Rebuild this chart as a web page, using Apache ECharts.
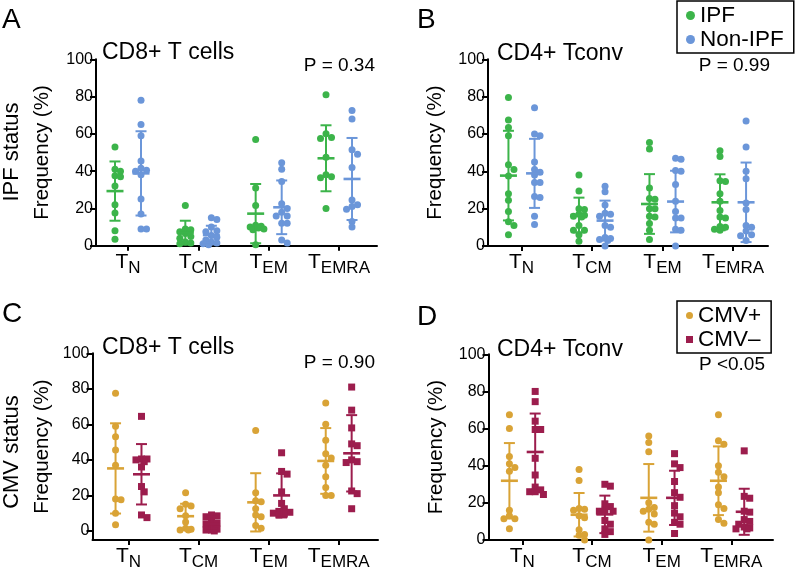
<!DOCTYPE html>
<html><head><meta charset="utf-8">
<script src="https://cdn.jsdelivr.net/npm/echarts@6/dist/echarts.min.js"></script>
<style>html,body{margin:0;padding:0;background:#fff}#c{width:800px;height:571px}</style>
</head><body><div id="c"></div><script>
// ---------- data ----------
const subs = ['N', 'CM', 'EM', 'EMRA'];          // T-cell subsets (subscripts of T)
const yTicks = [0, 20, 40, 60, 80, 100];
const xTicks = [0, 1, 2, 3];
const ipfNames = ['IPF', 'Non-IPF'];
const cmvNames = ['CMV+', 'CMV\u2013'];
const titles = ['CD8+ T cells', 'CD4+ Tconv', 'CD8+ T cells', 'CD4+ Tconv'];
const pValues = ['P = 0.34', 'P = 0.99', 'P = 0.90', 'P <0.05'];
const letters = ['A', 'B', 'C', 'D'];
const rowLabels = ['IPF status', 'CMV status'];

// Panel A: CD8+ T cells by IPF status
const A_ipf = [[53,41,40,37.5,37,32,22,17.5,8,3.5],[21.5,9,8.5,7.5,6.5,5,4,2,1.5,1],[57,31,21.5,11,10.5,10,9.5,9,8.5,0.5],[81,60,58,57.5,47.5,38,37,36.5,20]];
const A_ipf_mean = [29.3, 7, 17.2, 46.9];
const A_ipf_sd = [15.9, 6.4, 15.9, 17.7];
const A_non = [[78,65,59,45.5,41.5,40.5,40,38,25,17,9,9],[15,14,10,8,7.5,5.5,4.5,3,2,1.5,1,0.5],[44.5,41,34.5,22.5,20,18,16,16,12,12,3,1.5],[72.5,68,51.5,49,42,24.5,22,21,19.5,13,10]];
const A_non_mean = [38.8, 5.7, 20.6, 35.8];
const A_non_sd = [22.6, 5, 14.4, 22];

// Panel B: CD4+ Tconv by IPF status
const B_ipf = [[79.5,67.5,63.5,59,43.5,41,37.5,28,24.5,18.5,13,11,6],[38,29.5,20,19.5,17,16.5,16,15.5,11,8.5,8.5,6,2.5],[55.5,52,31,25.5,25,20,20,16,15.5,12,8.5,3.5],[51,48,35,34.5,28,24,19,15.5,15,10.5,10,9,8.5]];
const B_ipf_mean = [37.7, 16.6, 22.5, 23.4];
const B_ipf_sd = [24, 9.3, 16, 15];
const B_non = [[74,60,59,45,41,39.5,38,34,34,26.5,26,16,11.5],[32,29,22,17.5,17,16,11,10,4.5,4,3.5,3,0],[47,46.5,40.5,40,33,24,18.5,15,15,9,8.5,0],[67,53,40,36,23,19.5,11,10,8,6,5.5,3]];
const B_non_mean = [38.9, 13.6, 23.8, 23.4];
const B_non_sd = [18.5, 10.7, 16.5, 21.3];

// Panel C: CD8+ T cells by CMV status
const C_pos = [[77.5,59,53,45.5,37,18,17.5,10,3.5],[21.5,15,14,12.5,8.5,5,1.5,1,0.5,0.5],[56.5,21.5,17,16.5,12.5,9,8,3,1.5],[72,60,51,43.5,41,37,30.5,24.5,20,20]];
const C_pos_mean = [35.2, 8.3, 16.1, 39.4];
const C_pos_sd = [25.4, 7, 16.4, 18.5];
const C_neg = [[64.5,40.5,40.5,40,39,36,25,22,9,7.5],[9,8.5,8,6,4.5,4,2.5,1,0.5,0.5,0],[44,33.5,32,22,15.5,12.5,11,10.5,10,9.5,9],[81,68,58,49,48,40,39,38.5,22.5,21,12.5]];
const C_neg_mean = [31.9, 4, 20, 43.7];
const C_neg_sd = [17, 4, 12.4, 21.5];

// Panel D: CD4+ Tconv by CMV status
const D_pos = [[67.5,60,45,41,39,37,16,13,11.5,11.5,6],[38,32,17,16.5,16,13,12,5.5,3,2.5,0],[56,52.5,47.5,20,17.5,16.5,15.5,14,9.5,8.5,0],[67.5,53.5,51.5,40,36.5,34,28.5,25.5,19,17,11,9]];
const D_pos_mean = [31.9, 13.6, 22.7, 31.9];
const D_pos_sd = [20.3, 11.7, 18.2, 18.5];
const D_neg = [[80,74.5,64,59.5,59.5,44,35,28.5,27,26,26,24.5],[30,29,19.5,18,16,15.5,15.5,10.5,8.5,6,4.5,3],[46.5,41,39,31.5,25.5,23,18.5,14.5,12.5,9.5,8.5,3.5],[48,23.5,22.5,15.5,15,11,10,8.5,7,6.5,6,6]];
const D_neg_mean = [47.4, 13.8, 22.7, 15.2];
const D_neg_sd = [20.7, 10.1, 14.6, 12.4];

// ---------- layout / style ----------
const FONT = 'Liberation Sans, Arial, sans-serif';
const COL = { ipf: '#3cb44a', non: '#6b96d9', pos: '#d9a336', neg: '#9c1d4d' };
const layout = [
  { left: 96,   top: 59.3,  width: 281,   height: 186.4, xMin: -0.455, xMax: 3.54,  yMin: 0,    nameGap: 43 },
  { left: 488,  top: 59.3,  width: 280,   height: 186.7, xMin: -0.475, xMax: 3.496, yMin: 0,    nameGap: 42 },
  { left: 92.5, top: 353.3, width: 285.5, height: 189.2, xMin: -0.514, xMax: 3.561, yMin: -5.1, nameGap: 40 },
  { left: 488.5,top: 354.3, width: 284.5, height: 188.4, xMin: -0.485, xMax: 3.598, yMin: 0,    nameGap: 42 }
];
const groups = [
  [ { name: ipfNames[0], vals: A_ipf, mean: A_ipf_mean, sd: A_ipf_sd, color: COL.ipf, symbol: 'circle' },
    { name: ipfNames[1], vals: A_non, mean: A_non_mean, sd: A_non_sd, color: COL.non, symbol: 'circle' } ],
  [ { name: ipfNames[0], vals: B_ipf, mean: B_ipf_mean, sd: B_ipf_sd, color: COL.ipf, symbol: 'circle' },
    { name: ipfNames[1], vals: B_non, mean: B_non_mean, sd: B_non_sd, color: COL.non, symbol: 'circle' } ],
  [ { name: cmvNames[0], vals: C_pos, mean: C_pos_mean, sd: C_pos_sd, color: COL.pos, symbol: 'circle' },
    { name: cmvNames[1], vals: C_neg, mean: C_neg_mean, sd: C_neg_sd, color: COL.neg, symbol: 'rect' } ],
  [ { name: cmvNames[0], vals: D_pos, mean: D_pos_mean, sd: D_pos_sd, color: COL.pos, symbol: 'circle' },
    { name: cmvNames[1], vals: D_neg, mean: D_neg_mean, sd: D_neg_sd, color: COL.neg, symbol: 'rect' } ]
];
const GROUP_OFF = [-0.185, 0.185];
const DOT = 7;

// beeswarm: spread overlapping points horizontally (pixel space), limited width
function swarm(values, center, pxX, pxY, d, maxOff) {
  const placed = [], out = [];
  const order = values.map((v, i) => i).sort((a, b) => values[b] - values[a]);
  const cands = [0];
  for (let k = 1; k * d / 2 <= maxOff + 0.01; k++) cands.push(k * d / 2, -k * d / 2);
  for (const i of order) {
    const v = values[i];
    let off = null, best = -1, bestC = 0;
    for (const c of cands) {
      const md = placed.length ? Math.min(...placed.map(p => Math.hypot(p.x - c, (p.v - v) * pxY))) : Infinity;
      if (md >= d) { off = c; break; }
      if (md > best + 0.5) { best = md; bestC = c; }
    }
    if (off === null) off = bestC;
    placed.push({ x: off, v });
    out.push([center + off / pxX, v]);
  }
  return out;
}

const grid = [], xAxis = [], yAxis = [], series = [];
layout.forEach((L, p) => {
  grid.push({ left: L.left, top: L.top, width: L.width, height: L.height });
  const axisLine = { show: true, onZero: false, lineStyle: { color: '#000', width: 2 } };
  xAxis.push({
    type: 'value', gridIndex: p, min: L.xMin, max: L.xMax,
    axisLine, splitLine: { show: false },
    axisTick: { show: true, length: 5, customValues: xTicks, lineStyle: { color: '#000', width: 2 } },
    axisLabel: {
      customValues: xTicks, margin: 6,
      formatter: v => '{t|T}{s|' + subs[Math.round(v)] + '}',
      rich: {
        t: { fontSize: 21, fontFamily: FONT, color: '#000', lineHeight: 21, verticalAlign: 'top' },
        s: { fontSize: 17, fontFamily: FONT, color: '#000', lineHeight: 17, padding: [8, 0, 0, 0], verticalAlign: 'top' }
      }
    }
  });
  yAxis.push({
    type: 'value', gridIndex: p, min: L.yMin, max: 100,
    axisLine, splitLine: { show: false },
    axisTick: { show: true, length: 6, customValues: yTicks, lineStyle: { color: '#000', width: 2 } },
    axisLabel: { customValues: yTicks, fontSize: 16, fontFamily: FONT, color: '#000', margin: 3 },
    name: 'Frequency (%)', nameLocation: 'middle', nameGap: L.nameGap,
    nameTextStyle: { fontSize: 20.5, fontFamily: FONT, color: '#000' }
  });
  const pxX = L.width / (L.xMax - L.xMin), pxY = L.height / (100 - L.yMin);
  groups[p].forEach((g, gi) => {
    let pts = [];
    g.vals.forEach((vals, ci) => { pts = pts.concat(swarm(vals, ci + GROUP_OFF[gi], pxX, pxY, 5.5, 8.5)); });
    series.push({
      type: 'scatter', name: g.name, xAxisIndex: p, yAxisIndex: p, data: pts,
      symbol: g.symbol, symbolSize: DOT, itemStyle: { color: g.color, opacity: 1 },
      emphasis: { disabled: true }, z: 2, silent: true
    });
    const color = g.color;
    series.push({
      type: 'custom', name: g.name + ' mean±SD', xAxisIndex: p, yAxisIndex: p, z: 3, silent: true,
      encode: { x: 0, y: 1 },
      data: g.mean.map((m, ci) => [ci + GROUP_OFF[gi], m, g.sd[ci]]),
      renderItem: (params, api) => {
        const x = api.value(0), m = api.value(1), s = api.value(2);
        const c = api.coord([x, m]), t = api.coord([x, m + s]), b = api.coord([x, m - s]);
        const st = { stroke: color, lineWidth: 2 };
        return { type: 'group', children: [
          { type: 'line', shape: { x1: c[0], y1: t[1], x2: c[0], y2: b[1] }, style: st },
          { type: 'line', shape: { x1: c[0] - 5.5, y1: t[1], x2: c[0] + 5.5, y2: t[1] }, style: st },
          { type: 'line', shape: { x1: c[0] - 5.5, y1: b[1], x2: c[0] + 5.5, y2: b[1] }, style: st },
          { type: 'line', shape: { x1: c[0] - 8.5, y1: c[1], x2: c[0] + 8.5, y2: c[1] }, style: { stroke: color, lineWidth: 2.6 } }
        ]};
      }
    });
  });
});

// text annotations
const txt = (text, x, y, size, align, rot) => ({
  type: 'text', x, y, rotation: rot || 0, silent: true,
  style: { text, fontSize: size, fontFamily: FONT, fill: '#000', textAlign: align || 'left', textVerticalAlign: 'middle' }
});
const graphic = [
  txt(letters[0], 2, 20, 28), txt(letters[1], 417, 20, 28),
  txt(letters[2], 2, 314, 28), txt(letters[3], 417, 317, 28),
  txt(titles[0], 102, 53, 23), txt(titles[1], 497, 53.5, 23),
  txt(titles[2], 102, 347.5, 23), txt(titles[3], 497, 350, 23),
  txt(pValues[0], 375, 66, 19, 'right'), txt(pValues[1], 770, 66, 19, 'right'),
  txt(pValues[2], 375, 362.5, 19, 'right'), txt(pValues[3], 765, 364.5, 19, 'right'),
  txt(rowLabels[0], 12, 152, 22, 'center', Math.PI / 2),
  txt(rowLabels[1], 12, 452, 22, 'center', Math.PI / 2)
];

const legendBase = {
  orient: 'vertical', left: 677, selectedMode: false,
  borderColor: '#000', borderWidth: 1.5, borderRadius: 0,
  padding: [3, 10, 2, 9], itemGap: 1, itemWidth: 9, itemHeight: 9,
  textStyle: { fontSize: 22.5, fontFamily: FONT, color: '#000', lineHeight: 19 }
};
const legend = [
  Object.assign({}, legendBase, { top: 1, data: ipfNames }),
  Object.assign({}, legendBase, { top: 301, itemWidth: 7, itemHeight: 7, data: cmvNames })
];

const chart = echarts.init(document.getElementById('c'), null, { renderer: 'canvas' });
chart.setOption({ animation: false, backgroundColor: '#fff', grid, xAxis, yAxis, series, graphic, legend });
</script></body></html>
